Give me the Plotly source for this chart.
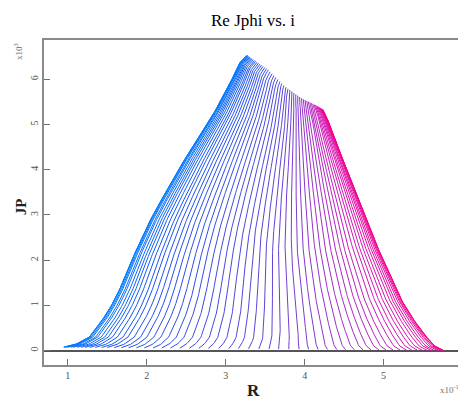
import numpy as np
import plotly.graph_objects as go

# ---- data (R in units of 1e-1, JP in units of 1e3) ----
# left boundary of the family of curves (bottom -> peak)
left_R = [0.95, 1.09, 1.26, 1.38, 1.51, 1.64, 1.74, 1.85, 1.96, 2.08, 2.24,
          2.40, 2.58, 2.77, 2.93, 3.08, 3.17, 3.27]
left_J = [0.075, 0.13, 0.27, 0.53, 0.86, 1.27, 1.71, 2.15, 2.58, 3.00, 3.50,
          4.00, 4.50, 5.00, 5.50, 6.00, 6.35, 6.53]
# right boundary (bottom -> shoulder)
right_R = [5.76, 5.66, 5.59, 5.45, 5.26, 4.99, 4.76, 4.53, 4.32, 4.23]
right_J = [0.00, 0.08, 0.20, 0.50, 1.00, 2.00, 3.00, 4.00, 5.00, 5.33]
# upper boundary (peak -> shoulder)
top_R = [3.27, 3.54, 3.75, 3.96, 4.17, 4.23]
top_J = [6.53, 6.21, 5.84, 5.58, 5.40, 5.33]
# foot position of each curve i on the baseline
foot_R = [0.95, 0.95, 0.96, 0.98, 1.00, 1.04, 1.07, 1.12, 1.17, 1.22,
          1.28, 1.35, 1.43, 1.50, 1.59, 1.68, 1.77, 1.87, 1.97, 2.08,
          2.19, 2.30, 2.42, 2.54, 2.66, 2.78, 2.91, 3.04, 3.16, 3.29,
          3.42, 3.55, 3.67, 3.80, 3.93, 4.05, 4.17, 4.29, 4.41, 4.52,
          4.63, 4.74, 4.84, 4.94, 5.03, 5.12, 5.21, 5.29, 5.36, 5.43,
          5.49, 5.55, 5.60, 5.64, 5.68, 5.71, 5.73, 5.75, 5.76, 5.76]

xtick_vals = [1, 2, 3, 4, 5, 6]
ytick_vals = [0, 1, 2, 3, 4, 5, 6]

# ---- build curves by blending the measured boundaries ----
SX, SY = 79.6, 45.2  # px per unit, used only to measure along a boundary


def along(Rs, Js, t):
    Rs = np.asarray(Rs, float); Js = np.asarray(Js, float)
    seg = np.hypot(np.diff(Rs) * SX, np.diff(Js) * SY)
    s = np.concatenate([[0], np.cumsum(seg)]); s /= s[-1]
    return np.interp(t, s, Rs), np.interp(t, s, Js)


t = np.linspace(0, 1, 140)
RL, JL = along(left_R, left_J, t)
RR, JR = along(right_R, right_J, t)
P01 = np.array([left_R[-1], left_J[-1]]); P11 = np.array([right_R[-1], right_J[-1]])

fr = np.array(foot_R)
ws = (fr - fr[0]) / (fr[-1] - fr[0])

stops = [(0.0, (0, 130, 255)), (0.2, (20, 85, 240)), (0.5, (90, 70, 215)),
         (0.65, (150, 50, 205)), (0.82, (215, 20, 180)), (1.0, (245, 0, 140))]


def colour(a):
    for (a0, c0), (a1, c1) in zip(stops[:-1], stops[1:]):
        if a <= a1:
            f = (a - a0) / (a1 - a0)
            return tuple(int(round(c0[i] + (c1[i] - c0[i]) * f)) for i in range(3))
    return stops[-1][1]


fig = go.Figure()
n = len(ws)
for k, w in enumerate(ws):
    tr_R = top_R[0] + w * (top_R[-1] - top_R[0])
    tr_J = np.interp(tr_R, top_R, top_J)
    lin_top = (1 - w) * P01 + w * P11
    corr = np.array([tr_R, tr_J]) - lin_top
    x = (1 - w) * RL + w * RR + t * corr[0]
    y = (1 - w) * JL + w * JR + t * corr[1]
    c = colour(k / (n - 1))
    fig.add_trace(go.Scatter(x=x, y=y, mode="lines",
                             line=dict(color="rgb(%d,%d,%d)" % c, width=1.0),
                             hoverinfo="skip", showlegend=False))

serif = "Liberation Serif, Times New Roman, serif"
fig.update_layout(
    width=458, height=394,
    margin=dict(l=36, r=1, t=32, b=37),
    paper_bgcolor="white", plot_bgcolor="white",
    font=dict(family=serif, size=10, color="#505050"),
    xaxis=dict(range=[0.70, 6.005], tickvals=xtick_vals,
               ticktext=[str(v) for v in xtick_vals],
               ticks="inside", ticklen=6, tickcolor="#707070", tickwidth=1,
               showline=True, mirror=True, linecolor="#8a8a8a", linewidth=1.5,
               showgrid=False, zeroline=False,
               tickfont=dict(family=serif, size=10, color="#505050")),
    yaxis=dict(range=[-0.32, 6.87], tickvals=ytick_vals,
               ticktext=[str(v) for v in ytick_vals], tickangle=-90,
               ticks="inside", ticklen=6, tickcolor="#707070", tickwidth=1,
               showline=True, mirror=True, linecolor="#8a8a8a", linewidth=1.5,
               showgrid=False, zeroline=True, zerolinecolor="#555555",
               zerolinewidth=1.5,
               tickfont=dict(family=serif, size=10, color="#505050")),
    annotations=[
        dict(text="Re Jphi vs. i", xref="paper", yref="paper", x=0.499, y=1.0615,
             xanchor="center", yanchor="middle", showarrow=False,
             font=dict(family=serif, size=17, color="black")),
        dict(text="<b>JP</b>", xref="paper", yref="paper", x=-0.0546, y=0.486,
             xanchor="center", yanchor="middle", textangle=-90, showarrow=False,
             font=dict(family=serif, size=15, color="#222222")),
        dict(text="<b>R</b>", xref="paper", yref="paper", x=0.499, y=-0.077,
             xanchor="center", yanchor="middle", showarrow=False,
             font=dict(family=serif, size=17, color="#222222")),
        dict(text="x10<sup>3</sup>", xref="paper", yref="paper", x=-0.062, y=0.963,
             xanchor="center", yanchor="middle", textangle=-90, showarrow=False,
             font=dict(family=serif, size=9, color="#707070")),
        dict(text="x10<sup>-1</sup>", xref="paper", yref="paper", x=0.967, y=-0.074,
             xanchor="center", yanchor="middle", showarrow=False,
             font=dict(family=serif, size=9, color="#707070")),
    ],
)

fig.write_html("out.html")
